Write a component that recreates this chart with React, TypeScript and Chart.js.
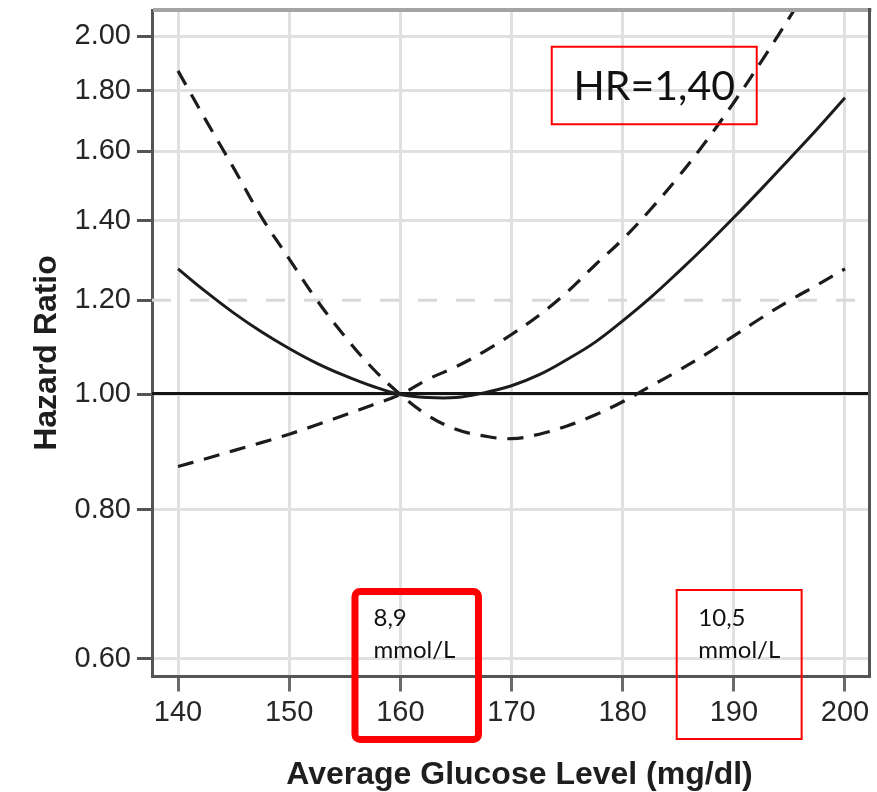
import React, { useEffect, useRef } from "react";
import { Chart, registerables } from "chart.js";

Chart.register(...registerables);

// ---- data ----
const glucose = [140, 142.5, 145, 147.5, 150, 152.5, 155, 157.5, 160, 162.5, 165, 167.5, 170, 172.5, 175, 177.5, 180, 182.5, 185, 187.5, 190, 192.5, 195, 197.5, 200];
const hazardRatio = [1.275, 1.22, 1.171, 1.129, 1.093, 1.062, 1.037, 1.016, 1.0, 0.994, 0.994, 1.003, 1.017, 1.039, 1.07, 1.106, 1.153, 1.206, 1.267, 1.334, 1.408, 1.489, 1.577, 1.671, 1.775];
const ciBoundA = [1.87, 1.70, 1.55, 1.41, 1.30, 1.20, 1.119, 1.052, 1.0, 0.96, 0.935, 0.923, 0.918, 0.926, 0.941, 0.961, 0.986, 1.016, 1.047, 1.081, 1.12, 1.16, 1.199, 1.236, 1.275];
const ciBoundB = [0.87, 0.883, 0.897, 0.911, 0.926, 0.943, 0.961, 0.98, 1.0, 1.03, 1.055, 1.086, 1.123, 1.166, 1.219, 1.284, 1.35, 1.43, 1.523, 1.632, 1.759, 1.906, 2.073, 2.261, 2.472];

const xTickValues = [140, 150, 160, 170, 180, 190, 200];
const yTickValues = [0.6, 0.8, 1.0, 1.2, 1.4, 1.6, 1.8, 2.0];
const referenceHR = 1.0;
const dashedGridHR = 1.2;

const xTitle = "Average Glucose Level (mg/dl)";
const yTitle = "Hazard Ratio";
const hrNote = ["HR=1,40"];
const lowNote = ["8,9", "mmol/L"];
const highNote = ["10,5", "mmol/L"];

// ---- layout / styling ----
const W = 877;
const H = 792;
const PLOT = { left: 152, top: 10, right: 869.5, bottom: 676.5 };
const X_MIN = 137.661;
const X_MAX = 202.204;
const Y_MIN = 0.5795;
const Y_MAX = 2.1037;

const TICK_FONT = "Liberation Sans";
const NOTE_FONT = "Lato";

// annotation boxes, placed in data coordinates
const noteBoxes = [
  { lines: hrNote, x0: 173.62, x1: 192.06, y0: 1.9595, y1: 1.6865, lw: 2, radius: 0, size: 41, center: true, dx: 0, baselines: [0] },
  { lines: lowNote, x0: 155.92, x1: 167.03, y0: 0.6832, y1: 0.5131, lw: 7, radius: 5, size: 24, center: false, dx: 18.5, baselines: [34.5, 66.8] },
  { lines: highNote, x0: 184.86, x1: 196.1, y0: 0.6852, y1: 0.5136, lw: 2, radius: 0, size: 24, center: false, dx: 21.6, baselines: [36, 68] },
];

const decorPlugin = {
  id: "decor",
  beforeDatasetsDraw(chart: any) {
    const { ctx, chartArea: a, scales } = chart;
    const y = scales.y;
    ctx.save();
    const y12 = y.getPixelForValue(dashedGridHR);
    ctx.strokeStyle = "#d8d8d8";
    ctx.lineWidth = 3;
    ctx.setLineDash([19, 19]);
    ctx.beginPath();
    ctx.moveTo(a.left, y12);
    ctx.lineTo(a.right, y12);
    ctx.stroke();
    ctx.setLineDash([]);
    const y1 = y.getPixelForValue(referenceHR) - 1;
    ctx.strokeStyle = "#141414";
    ctx.lineWidth = 3;
    ctx.beginPath();
    ctx.moveTo(a.left, y1);
    ctx.lineTo(a.right, y1);
    ctx.stroke();
    ctx.restore();
  },
  afterDraw(chart: any) {
    const { ctx, chartArea: a, scales } = chart;
    const x = scales.x;
    const y = scales.y;
    ctx.save();
    // top and right frame
    ctx.fillStyle = "#a4a4a4";
    ctx.fillRect(a.left + 1, a.top - 2, a.right - a.left + 1, 4);
    ctx.fillStyle = "#545454";
    ctx.fillRect(a.right - 1.5, a.top - 2, 3, a.bottom - a.top + 3.5);

    // axis titles
    ctx.fillStyle = "#1e1e1e";
    ctx.font = `bold 32px ${TICK_FONT}`;
    ctx.textAlign = "center";
    ctx.textBaseline = "alphabetic";
    ctx.fillText(xTitle, 519.5, 784);
    ctx.save();
    ctx.translate(56, 353);
    ctx.rotate(-Math.PI / 2);
    ctx.fillText(yTitle, 0, 0);
    ctx.restore();

    // red annotation boxes
    for (const b of noteBoxes) {
      const l = x.getPixelForValue(b.x0);
      const r = x.getPixelForValue(b.x1);
      const t = y.getPixelForValue(b.y0);
      const bt = y.getPixelForValue(b.y1);
      ctx.strokeStyle = "#ff0000";
      ctx.lineWidth = b.lw;
      ctx.beginPath();
      if (b.radius > 0 && (ctx as any).roundRect) {
        (ctx as any).roundRect(l, t, r - l, bt - t, b.radius);
      } else {
        ctx.rect(l, t, r - l, bt - t);
      }
      ctx.stroke();
      ctx.fillStyle = "#111111";
      ctx.font = `${b.size}px ${NOTE_FONT}`;
      if (b.center) {
        ctx.textAlign = "center";
        ctx.textBaseline = "middle";
        ctx.fillText(b.lines[0], (l + r) / 2, (t + bt) / 2 + 1);
      } else {
        ctx.textAlign = "left";
        ctx.textBaseline = "alphabetic";
        b.lines.forEach((s, i) => ctx.fillText(s, l + b.dx, t + b.baselines[i]));
      }
    }
    ctx.restore();
  },
};

function toPoints(vals: number[]) {
  return glucose.map((g, i) => ({ x: g, y: vals[i] }));
}

export default function App() {
  const canvasRef = useRef<HTMLCanvasElement | null>(null);

  useEffect(() => {
    if (!canvasRef.current) return;
    const lineColor = "#1c1c1c";
    const chart = new Chart(canvasRef.current, {
      type: "line",
      data: {
        datasets: [
          {
            label: "HR",
            data: toPoints(hazardRatio),
            borderColor: lineColor,
            borderWidth: 3,
            pointRadius: 0,
            tension: 0.4,
            fill: false,
          },
          {
            label: "CI A",
            data: toPoints(ciBoundA),
            borderColor: lineColor,
            borderWidth: 3.2,
            borderDash: [16, 11],
            pointRadius: 0,
            tension: 0.4,
            fill: false,
          },
          {
            label: "CI B",
            data: toPoints(ciBoundB),
            borderColor: lineColor,
            borderWidth: 3.2,
            borderDash: [16, 11],
            pointRadius: 0,
            tension: 0.4,
            fill: false,
          },
        ],
      },
      options: {
        animation: false,
        responsive: false,
        devicePixelRatio: 1,
        layout: {
          padding: { left: 0, top: PLOT.top, right: W - PLOT.right, bottom: 0 },
        },
        plugins: {
          legend: { display: false },
          tooltip: { enabled: false },
          title: { display: false },
        },
        scales: {
          x: {
            type: "linear",
            min: X_MIN,
            max: X_MAX,
            afterBuildTicks: (scale: any) => {
              scale.ticks = xTickValues.map((v) => ({ value: v }));
            },
            afterFit: (scale: any) => {
              scale.height = H - PLOT.bottom;
              scale.paddingLeft = 0;
              scale.paddingRight = 0;
            },
            ticks: {
              autoSkip: false,
              maxRotation: 0,
              padding: 4,
              color: "#262626",
              font: { family: TICK_FONT, size: 29 },
              callback: (v: any) => String(v),
            },
            grid: {
              color: "#e0e0e0",
              lineWidth: 3,
              tickLength: 15,
              tickWidth: 3,
              tickColor: "#6a6a6a",
            },
            border: { color: "#555555", width: 3 },
          },
          y: {
            type: "logarithmic",
            min: Y_MIN,
            max: Y_MAX,
            afterBuildTicks: (scale: any) => {
              scale.ticks = yTickValues.map((v) => ({ value: v }));
            },
            afterFit: (scale: any) => {
              scale.width = PLOT.left;
              scale.paddingTop = 0;
              scale.paddingBottom = 0;
            },
            ticks: {
              autoSkip: false,
              padding: 6,
              color: "#262626",
              font: { family: TICK_FONT, size: 29 },
              callback: (v: any) => Number(v).toFixed(2),
            },
            grid: {
              color: (c: any) =>
                c.tick && Math.abs(c.tick.value - dashedGridHR) < 1e-6 ? "rgba(0,0,0,0)" : "#e0e0e0",
              lineWidth: 3,
              tickLength: 15,
              tickWidth: 3,
              tickColor: "#555555",
            },
            border: { color: "#555555", width: 3 },
          },
        },
      },
      plugins: [decorPlugin],
    } as any);
    return () => chart.destroy();
  }, []);

  return (
    <div style={{ position: "absolute", left: 0, top: 0, width: W, height: H, background: "#ffffff" }}>
      <canvas ref={canvasRef} width={W} height={H} style={{ display: "block", width: W, height: H }} />
    </div>
  );
}
